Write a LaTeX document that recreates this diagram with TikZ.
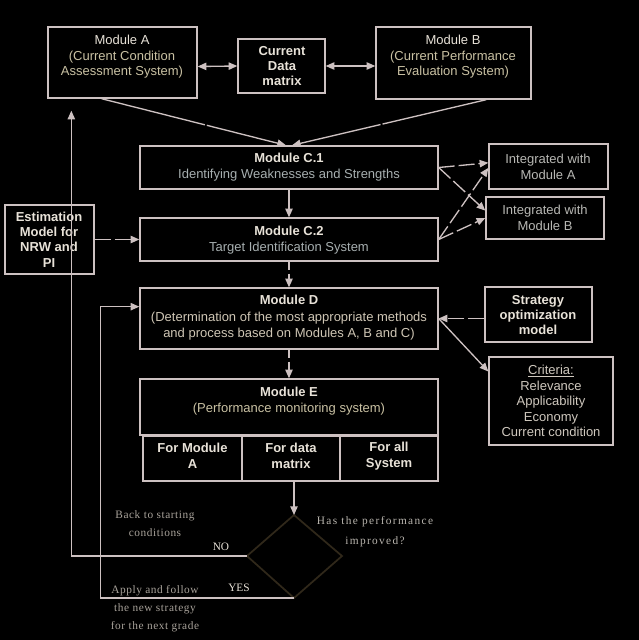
\documentclass[tikz,border=0pt]{standalone}
\usepackage{fontspec}
\setmainfont{Liberation Sans}
\newfontfamily\notefont[LetterSpace=5]{Liberation Serif}
\newfontfamily\notefontwide[LetterSpace=12]{Liberation Serif}
\newfontfamily\ynfont{Liberation Serif}
\usetikzlibrary{arrows.meta,calc}
\definecolor{ln}{HTML}{CDC1C1}
\definecolor{ttl}{HTML}{E8E2D8}
\definecolor{subA}{HTML}{C9C1A3}
\definecolor{subC}{HTML}{A7AFB0}
\definecolor{subD}{HTML}{CFC6B5}
\definecolor{intg}{HTML}{B8B8B4}
\definecolor{crt}{HTML}{CFC8BE}
\definecolor{note}{HTML}{A8A29A}
\definecolor{diam}{HTML}{30281A}
\begin{document}
\begin{tikzpicture}[x=0.75pt,y=-0.75pt,
  box/.style={draw=ln, line width=1pt, fill=black, inner sep=0pt},
  txt/.style={text=ttl, align=center, inner sep=0pt, font=\fontsize{9.75}{11.6}\selectfont},
  btxt/.style={txt, font=\fontsize{9.75}{11.6}\selectfont\bfseries},
  note/.style={text=note, align=center, inner sep=0pt, font=\fontsize{8.5}{13.5}\notefont},
  notew/.style={text=note!80!white, align=center, inner sep=0pt, font=\fontsize{8.5}{15}\notefontwide},
  yn/.style={text=ttl, inner sep=0pt, font=\fontsize{8.5}{10}\ynfont},
  conn/.style={draw=ln, line width=1pt},
  arr/.style={conn, -{Triangle[length=6.5pt,width=5.5pt]}},
  darr/.style={conn, {Triangle[length=6.5pt,width=5.5pt]}-{Triangle[length=6.5pt,width=5.5pt]}},
  dsh/.style={dash pattern=on 12pt off 3pt},
  sdsh/.style={dash pattern=on 6pt off 3pt},
  ldsh/.style={dash pattern=on 80pt off 1.5pt}
]
\fill[black] (0,0) rectangle (639,640);
\useasboundingbox (0,0) rectangle (639,640);

% boxes
\node[box, minimum width=111.75pt, minimum height=53.25pt] (modA) at (122.5,62.5) {};
\node[box, minimum width=65.25pt, minimum height=40.5pt] (cdm) at (281.5,66) {};
\node[box, minimum width=116.25pt, minimum height=54pt] (modB) at (453.5,63) {};
\node[box, minimum width=223.5pt, minimum height=32.25pt] (c1) at (289,167.5) {};
\node[box, minimum width=223.5pt, minimum height=32.25pt] (c2) at (289,239.5) {};
\node[box, minimum width=66.75pt, minimum height=51.75pt] (est) at (49.5,239.5) {};
\node[box, minimum width=89.25pt, minimum height=33.75pt] (ia) at (548.5,166.5) {};
\node[box, minimum width=88.5pt, minimum height=31.5pt] (ib) at (545,218) {};
\node[box, minimum width=223.5pt, minimum height=45.75pt] (d) at (289,318.5) {};
\node[box, minimum width=80.25pt, minimum height=41.25pt] (strat) at (538.5,314.5) {};
\node[box, minimum width=93pt, minimum height=66pt] (crit) at (551,401) {};
\node[box, minimum width=223.5pt, minimum height=42pt] (e) at (289,407) {};
\node[box, minimum width=74.25pt, minimum height=33.75pt] (sub1) at (192.5,458.5) {};
\node[box, minimum width=73.5pt, minimum height=33.75pt] (sub2) at (291,458.5) {};
\node[box, minimum width=73.5pt, minimum height=33.75pt] (sub3) at (389,458.5) {};

% diamond
\coordinate (dtop) at (294,515);
\coordinate (dright) at (342,556);
\coordinate (dbot) at (294,598);
\coordinate (dleft) at (247,556);
\draw[draw=diam, line width=1.3pt] (dtop) -- (dright) -- (dbot) -- (dleft) -- cycle;

% texts
\node[txt] (modAt) at (122,57) {Module A\\{\color{subA}(Current Condition}\\{\color{subA}Assessment System)}};
\node[btxt] (cdmt) at (282,66) {Current\\Data\\matrix};
\node[txt] (modBt) at (453,57) {Module B\\{\color{subA}(Current Performance}\\{\color{subA}Evaluation System)}};
\node[txt] (c1t) at (289,167) {\textbf{Module C.1}\\{\color{subC}Identifying Weaknesses and Strengths}};
\node[txt] (c2t) at (289,240) {\textbf{Module C.2}\\{\color{subC}Target Identification System}};
\node[btxt] (estt) at (49,239.5) {Estimation\\Model for\\NRW and\\PI};
\node[txt, text=intg] (iat) at (548,167) {Integrated with\\Module A};
\node[txt, text=intg] (ibt) at (545,218) {Integrated with\\Module B};
\node[txt, font=\fontsize{9.75}{12.4}\selectfont] (dt) at (289,318) {\textbf{Module D}\\{\color{subD}(Determination of the most appropriate methods}\\{\color{subD}and process based on Modules A, B and C)}};
\node[btxt] (stratt) at (538,315) {Strategy\\optimization\\model};
\node[txt, text=crt] (critt) at (551,401) {\underline{Criteria:}\\Relevance\\Applicability\\Economy\\Current condition};
\node[txt, font=\fontsize{9.75}{12.4}\selectfont] (et) at (289,401) {\textbf{Module E}\\{\color{subA}(Performance monitoring system)}};
\node[btxt] (sub1t) at (192.5,456) {For Module\\A};
\node[btxt] (sub2t) at (291,456) {For data\\matrix};
\node[btxt] (sub3t) at (389,456) {For all\\System};
\node[notew] (qt) at (375,532) {Has the performance\\improved?};
\node[note] (backt) at (155,524) {Back to starting\\conditions};
\node[note] (applyt) at (155,609) {Apply and follow\\the new strategy\\for the next grade};
\node[yn] (not) at (221,547) {NO};
\node[yn] (yest) at (239,588) {YES};

% connectors
\draw[darr] ($(modA.east)+(0,4)$) -- (cdm.west);
\draw[darr] (cdm.east) -- (modB.west |- cdm.east);
\draw[arr, ldsh] ($(modA.south west)!0.36!(modA.south east)$) -- ($(c1.north west)!0.49!(c1.north east)$);
\draw[arr, ldsh] ($(modB.south west)!0.71!(modB.south east)$) -- ($(c1.north west)!0.51!(c1.north east)$);
\draw[arr] (c1.south) -- (c2.north);
\draw[arr, dsh] (est.east) -- (c2.west);
\draw[arr, dsh] (c1.east) -- ($(ia.north west)!0.42!(ia.south west)$);
\draw[arr, dsh] (c1.east) -- ($(ib.north west)!0.33!(ib.south west)$);
\draw[arr, dsh] (c2.east) -- ($(ia.north west)!0.53!(ia.south west)$);
\draw[arr, dsh] (c2.east) -- (ib.west);
\draw[arr, sdsh] (c2.south) -- (d.north);
\draw[arr, dsh] (strat.west |- d.east) -- (d.east);
\draw[arr, ldsh] (d.east) -- ($(crit.north west)!0.17!(crit.south west)$);
\draw[arr, sdsh] (d.south) -- (e.north);
\draw[arr, ldsh] (sub2.south -| dtop) -- (dtop);
\coordinate (noend) at ($(modA.south west)+(24,12)$);
\draw[arr] (dleft) -| (noend);
\coordinate (dtarget) at ($(d.north west)!0.31!(d.south west)$);
\draw[arr] (dbot) -| ($(dtarget)+(-39,0)$) -- (dtarget);
\end{tikzpicture}
\end{document}
